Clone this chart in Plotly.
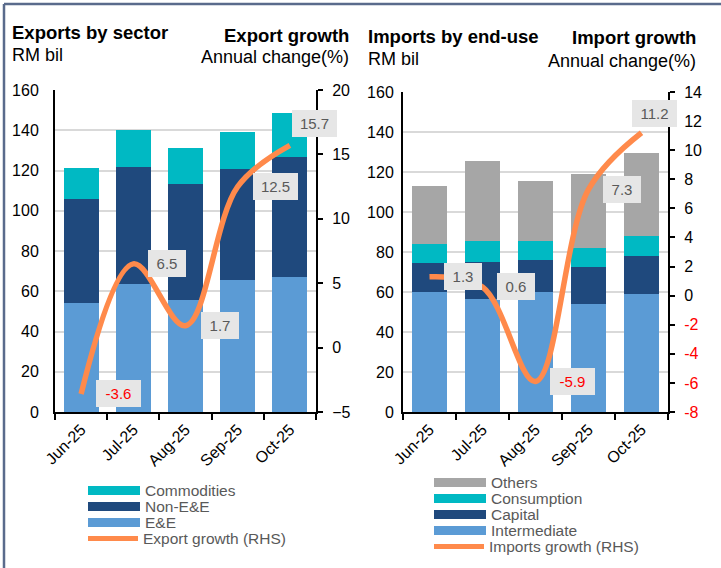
import plotly.graph_objects as go

# data
months = ["Jun-25", "Jul-25", "Aug-25", "Sep-25", "Oct-25"]

ee = [54.2, 63.5, 55.5, 65.4, 67.3]
non_ee = [51.8, 58.2, 57.8, 55.2, 59.4]
commodities = [15.4, 18.3, 18.1, 18.4, 21.7]
export_growth = [-3.6, 6.5, 1.7, 12.5, 15.7]

intermediate = [60.1, 56.6, 60.1, 54.1, 59.1]
capital = [14.5, 18.2, 15.7, 18.5, 18.7]
consumption = [9.2, 10.5, 9.5, 9.2, 10.2]
others = [29.4, 40.3, 30.3, 37.0, 41.5]
import_growth = [1.3, 0.6, -5.9, 7.3, 11.2]

y4_ticks = list(range(-8, 15, 2))

# colours
C_EE = "#5B9BD5"
C_NAVY = "#1F497D"
C_CYAN = "#00B9C3"
C_GREY = "#A6A6A6"
C_ORANGE = "#FF8A4B"
TXT = "#595959"
FONT = "Liberation Sans, Arial, sans-serif"

W, H = 721, 568
ML, MR, MT, MB = 55, 53, 90, 156
PW = W - ML - MR
PH = H - MT - MB


def px(x):
    return (x - ML) / PW


def py(y):
    return (H - MB - y) / PH


fig = go.Figure()

# exports
fig.add_trace(go.Bar(x=months, y=ee, name="E&E", marker_color=C_EE, xaxis="x", yaxis="y"))
fig.add_trace(go.Bar(x=months, y=non_ee, name="Non-E&E", marker_color=C_NAVY, xaxis="x", yaxis="y"))
fig.add_trace(go.Bar(x=months, y=commodities, name="Commodities", marker_color=C_CYAN, xaxis="x", yaxis="y"))
fig.add_trace(go.Scatter(x=months, y=export_growth, name="Export growth (RHS)", mode="lines",
                         line=dict(color=C_ORANGE, width=5.5, shape="spline", smoothing=1),
                         xaxis="x", yaxis="y2"))

# imports
fig.add_trace(go.Bar(x=months, y=intermediate, name="Intermediate", marker_color=C_EE, xaxis="x2", yaxis="y3"))
fig.add_trace(go.Bar(x=months, y=capital, name="Capital", marker_color=C_NAVY, xaxis="x2", yaxis="y3"))
fig.add_trace(go.Bar(x=months, y=consumption, name="Consumption", marker_color=C_CYAN, xaxis="x2", yaxis="y3"))
fig.add_trace(go.Bar(x=months, y=others, name="Others", marker_color=C_GREY, xaxis="x2", yaxis="y3"))
fig.add_trace(go.Scatter(x=months, y=import_growth, name="Imports growth (RHS)", mode="lines",
                         line=dict(color=C_ORANGE, width=5.5, shape="spline", smoothing=1),
                         xaxis="x2", yaxis="y4"))

for tr in fig.data:
    tr.showlegend = False
    if tr.type == "bar":
        tr.marker.line.width = 0

xcommon = dict(type="category", range=[-0.5, len(months) - 0.5], autorange=False,
               showline=True, linecolor="black", linewidth=2,
               ticks="outside", tickson="boundaries", ticklen=6, tickwidth=2, tickcolor="black",
               tickangle=-45, tickfont=dict(size=16, color="black"), showgrid=False)
ycommon = dict(showline=True, linecolor="black", linewidth=2, zeroline=False,
               tickfont=dict(size=16, color="black"))

fig.update_layout(
    xaxis=dict(domain=[0, px(316)], anchor="y", **xcommon),
    yaxis=dict(domain=[0, 1], anchor="x", range=[0, 160], dtick=20, ticks="",
               showgrid=True, gridcolor="#D9D9D9", gridwidth=1.5, ticklabelstandoff=11, **ycommon),
    yaxis2=dict(overlaying="y", side="right", anchor="x", range=[-5, 20], dtick=5,
                ticks="outside", ticklen=5, tickwidth=2, tickcolor="black", showgrid=False,
                ticklabelstandoff=6, **ycommon),
    xaxis2=dict(domain=[px(403), 1], anchor="y3", **xcommon),
    yaxis3=dict(domain=[0, py(92)], anchor="x2", range=[0, 160], dtick=20, ticks="",
                showgrid=True, gridcolor="#D9D9D9", gridwidth=1.5, ticklabelstandoff=4, **ycommon),
    yaxis4=dict(overlaying="y3", side="right", anchor="x2", range=[-8, 14],
                tickvals=y4_ticks,
                ticktext=[f"<span style='color:#FF0000'>{v}</span>" if v < 0 else str(v) for v in y4_ticks],
                ticks="outside", ticklen=5, tickwidth=2, tickcolor="black", showgrid=False,
                ticklabelstandoff=6, **ycommon),
)

# data labels
ann = []


def label(x, y, v, xref, yref, xs, ys):
    t = f"{v:.1f}"
    ann.append(dict(x=x, y=y, xref=xref, yref=yref, text=t, showarrow=False,
                    xanchor="left", yanchor="middle", xshift=xs, yshift=ys,
                    font=dict(size=15, color="#FF0000" if v < 0 else TXT),
                    bgcolor="#E6E6E6", borderpad=4, borderwidth=0,
                    width=30 + 7 * (len(t) - 3), height=19))


for i, (m, v) in enumerate(zip(months, export_growth)):
    last = i == len(months) - 1
    label(m, v, v, "x", "y2", 2 if last else 15, 22 if last else 0)
for i, (m, v) in enumerate(zip(months, import_growth)):
    last = i == len(months) - 1
    label(m, v, v, "x2", "y4", -10 if last else 14, 19 if last else 0)


# titles
def txt(x, y, s, anchor="left", bold=False, size=18, color="black"):
    ann.append(dict(x=px(x), y=py(y), xref="paper", yref="paper",
                    text=f"<b>{s}</b>" if bold else s, showarrow=False,
                    xanchor=anchor, yanchor="middle", font=dict(size=size, color=color)))


txt(10, 32, "Exports by sector", bold=True, size=18.5)
txt(10, 55, "RM bil")
txt(351, 35, "Export growth", anchor="right", bold=True, size=18.5)
txt(351, 57, "Annual change(%)", anchor="right")
txt(366, 37, "Imports by end-use", bold=True, size=18.5)
txt(366, 59, "RM bil")
txt(698, 38, "Import growth", anchor="right", bold=True, size=18.5)
txt(698, 61, "Annual change(%)", anchor="right")

# manual legends
shapes = []


def leg_item(x0, yc, label_text, color, line=False):
    if line:
        shapes.append(dict(type="line", xref="paper", yref="paper",
                           x0=px(x0 + 2), x1=px(x0 + 52), y0=py(yc), y1=py(yc),
                           line=dict(color=color, width=5)))
    else:
        shapes.append(dict(type="rect", xref="paper", yref="paper",
                           x0=px(x0), x1=px(x0 + 52), y0=py(yc - 4.5), y1=py(yc + 4.5),
                           fillcolor=color, line=dict(width=0)))
    ann.append(dict(x=px(x0 + 55), y=py(yc), xref="paper", yref="paper", text=label_text,
                    showarrow=False, xanchor="left", yanchor="middle",
                    font=dict(size=15.5, color=TXT)))


leg_item(88, 490.5, "Commodities", C_CYAN)
leg_item(88, 506.5, "Non-E&E", C_NAVY)
leg_item(88, 522.5, "E&E", C_EE)
leg_item(86, 538.5, "Export growth (RHS)", C_ORANGE, line=True)

leg_item(434, 482.5, "Others", C_GREY)
leg_item(434, 498.5, "Consumption", C_CYAN)
leg_item(434, 514.5, "Capital", C_NAVY)
leg_item(434, 530.5, "Intermediate", C_EE)
leg_item(432, 546.5, "Imports growth (RHS)", C_ORANGE, line=True)

# frame
shapes.append(dict(type="line", xref="paper", yref="paper", x0=px(4), x1=px(4), y0=py(4), y1=py(568),
                   line=dict(color="#5A6B8C", width=2.5)))
shapes.append(dict(type="line", xref="paper", yref="paper", x0=px(4), x1=px(721), y0=py(4), y1=py(4),
                   line=dict(color="#5A6B8C", width=2.5)))

fig.update_layout(
    width=W, height=H, margin=dict(l=ML, r=MR, t=MT, b=MB),
    barmode="stack", bargap=0.33,
    plot_bgcolor="white", paper_bgcolor="white",
    font=dict(family=FONT, size=16, color="black"),
    annotations=ann, shapes=shapes, showlegend=False,
)

# page body has a default margin; drop it so the figure sits at the window corner
fig.write_html("out.html", config={"displayModeBar": False},
               post_script="document.body.style.margin='0';document.body.style.overflow='hidden';")
